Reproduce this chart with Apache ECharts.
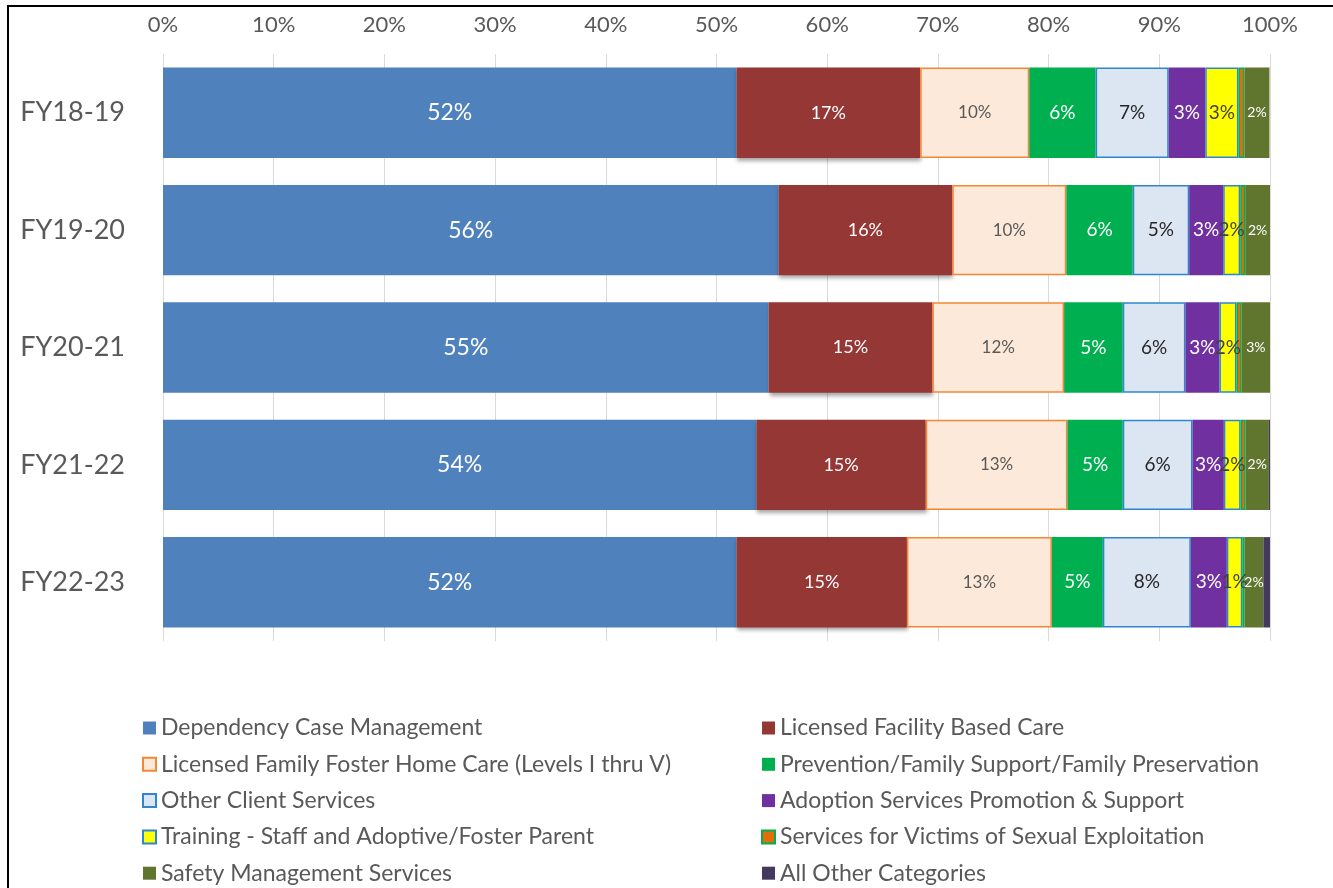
<!DOCTYPE html>
<html>
<head>
<meta charset="utf-8">
<title>Expenditure by category</title>
<script src="https://cdn.jsdelivr.net/npm/echarts@6/dist/echarts.min.js"></script>
<style>
  html, body { margin: 0; padding: 0; background: #fff; }
  #chart { position: absolute; left: 0; top: 0; width: 1333px; height: 888px; }
  .frame { position: absolute; left: 7px; top: 5px; width: 1400px; height: 1000px; border: 2px solid #000; pointer-events: none; }
</style>
</head>
<body>
<div id="chart"></div>
<div class="frame"></div>
<script>
// fiscal years (top to bottom)
const categories = ['FY18-19', 'FY19-20', 'FY20-21', 'FY21-22', 'FY22-23'];

const seriesNames = [
  'Dependency Case Management',
  'Licensed Facility Based Care',
  'Licensed Family Foster Home Care (Levels I thru V)',
  'Prevention/Family Support/Family Preservation',
  'Other Client Services',
  'Adoption Services Promotion & Support',
  'Training - Staff and Adoptive/Foster Parent',
  'Services for Victims of Sexual Exploitation',
  'Safety Management Services',
  'All Other Categories'
];

// share of total (%) per year
const dependencyCase = [51.8, 55.6, 54.7, 53.6, 51.8];
const facilityCare = [16.6, 15.7, 14.8, 15.3, 15.4];
const fosterHomeCare = [9.85, 10.3, 11.9, 12.8, 13.1];
const prevention = [6.0, 6.0, 5.3, 5.0, 4.6];
const otherClient = [6.6, 5.1, 5.66, 6.3, 7.95];
const adoption = [3.3, 3.07, 3.07, 2.83, 3.25];
const training = [3.0, 1.54, 1.54, 1.52, 1.4];
const victims = [0.55, 0.45, 0.48, 0.45, 0.2];
const safety = [2.25, 2.25, 2.55, 2.1, 1.7];
const allOther = [0, 0, 0, 0.2, 0.6];

const valueTicks = { min: 0, max: 100, interval: 10 };

const FONT = 'Lato, "Open Sans", sans-serif';

let myChart = echarts.init(document.getElementById('chart'));

// one stacked bar series
function makeSeries(name, data, style, label) {
  return {
    name: name,
    type: 'bar',
    stack: 'total',
    data: data,
    barCategoryGap: '23%',
    itemStyle: style,
    label: Object.assign({
      show: true,
      position: 'inside',
      fontFamily: FONT,
      formatter: p => Math.round(p.value) + '%'
    }, label)
  };
}

let series = [
  makeSeries(seriesNames[0], dependencyCase, { color: '#4F81BD' }, { color: '#fff', fontSize: 23 }),
  makeSeries(seriesNames[1], facilityCare, {
    color: '#953735',
    shadowColor: 'rgba(0,0,0,0.35)', shadowBlur: 4, shadowOffsetX: 1, shadowOffsetY: 3
  }, { color: '#fff', fontSize: 18 }),
  makeSeries(seriesNames[2], fosterHomeCare, { color: '#FDE9D9', borderColor: '#F58634', borderWidth: 1.5 }, { color: '#595959', fontSize: 17 }),
  makeSeries(seriesNames[3], prevention, { color: '#00B050' }, { color: '#fff', fontSize: 19 }),
  makeSeries(seriesNames[4], otherClient, { color: '#DCE6F2', borderColor: '#2E86D0', borderWidth: 1.5 }, { color: '#262626', fontSize: 19 }),
  makeSeries(seriesNames[5], adoption, { color: '#7030A0' }, { color: '#fff', fontSize: 19 }),
  makeSeries(seriesNames[6], training, { color: '#FFFF00', borderColor: '#2E86D0', borderWidth: 1.5 }, { color: '#404040', fontSize: 19 }),
  makeSeries(seriesNames[7], victims, { color: '#E46C0A', borderColor: '#00B050', borderWidth: 1.5 }, { show: false }),
  makeSeries(seriesNames[8], safety, { color: '#60762F' }, { color: '#fff', fontSize: 14 }),
  makeSeries(seriesNames[9], allOther, { color: '#46395E' }, { show: false })
];

let legendBase = {
  orient: 'vertical',
  top: 716,
  padding: 0,
  itemWidth: 13,
  itemHeight: 13,
  itemGap: 12.3,
  icon: 'rect',
  selectedMode: false,
  textStyle: { fontFamily: FONT, fontSize: 23, lineHeight: 24, color: '#595959' }
};

let option = {
  animation: false,
  backgroundColor: '#fff',
  textStyle: { fontFamily: FONT },
  grid: { left: 163, top: 54, width: 1107, height: 587 },
  legend: [
    Object.assign({ left: 142, data: seriesNames.filter((n, i) => i % 2 === 0) }, legendBase),
    Object.assign({ left: 761, data: seriesNames.filter((n, i) => i % 2 === 1) }, legendBase)
  ],
  xAxis: {
    type: 'value',
    position: 'top',
    min: valueTicks.min,
    max: valueTicks.max,
    interval: valueTicks.interval,
    axisLine: { show: false },
    axisTick: { show: false },
    axisLabel: { formatter: '{value}%', fontSize: 22, color: '#595959', margin: 18 },
    splitLine: { lineStyle: { color: '#d9d9d9', width: 1 } }
  },
  yAxis: {
    type: 'category',
    inverse: true,
    data: categories,
    axisLine: { show: false },
    axisTick: { show: false },
    axisLabel: { fontSize: 27, color: '#595959', margin: 38 }
  },
  series: series
};

myChart.setOption(option);
</script>
</body>
</html>
